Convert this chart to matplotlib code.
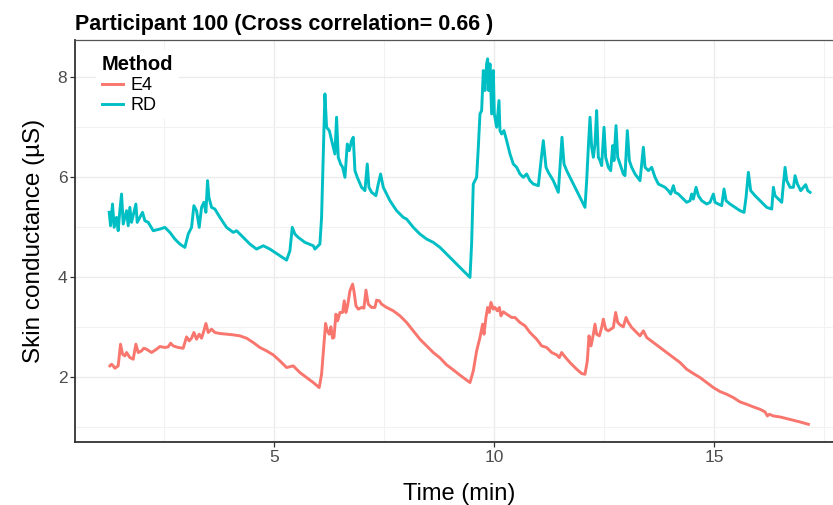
import matplotlib
matplotlib.use('Agg')
import matplotlib.pyplot as plt
from matplotlib.ticker import MultipleLocator

plt.rcParams['font.family'] = ['Liberation Sans', 'DejaVu Sans']

# values (time in min, skin conductance in uS)
rd_time = [1.258, 1.288, 1.333, 1.371, 1.424, 1.462, 1.5, 1.538, 1.576, 1.652, 1.689, 1.727, 1.765, 1.818,
           1.864, 1.894, 1.955, 2.015, 2.068, 2.144, 2.258, 2.409, 2.523, 2.636, 2.75, 2.864, 2.977, 3.053,
           3.129, 3.182, 3.242, 3.303, 3.356, 3.409, 3.455, 3.492, 3.523, 3.583, 3.659, 3.773, 3.924, 4.076,
           4.152, 4.303, 4.455, 4.606, 4.758, 4.909, 5.136, 5.288, 5.364, 5.417, 5.477, 5.553, 5.705, 5.894,
           5.932, 6.045, 6.083, 6.121, 6.159, 6.197, 6.258, 6.348, 6.386, 6.424, 6.462, 6.515, 6.561, 6.614,
           6.667, 6.712, 6.765, 6.803, 6.841, 6.894, 6.992, 7.068, 7.121, 7.159, 7.22, 7.318, 7.371, 7.424,
           7.485, 7.636, 7.788, 7.939, 8.015, 8.167, 8.318, 8.47, 8.621, 8.773, 8.924, 9.076, 9.227, 9.379,
           9.455, 9.492, 9.53, 9.568, 9.606, 9.644, 9.682, 9.72, 9.758, 9.795, 9.833, 9.856, 9.879, 9.909,
           9.947, 9.985, 10.008, 10.061, 10.114, 10.136, 10.174, 10.227, 10.288, 10.364, 10.439, 10.515,
           10.591, 10.667, 10.742, 10.818, 10.894, 11.008, 11.061, 11.121, 11.182, 11.235, 11.348, 11.462,
           11.515, 11.545, 11.591, 11.652, 11.803, 11.955, 12.068, 12.106, 12.144, 12.182, 12.22, 12.258,
           12.295, 12.333, 12.371, 12.409, 12.447, 12.5, 12.538, 12.598, 12.652, 12.697, 12.727, 12.773,
           12.811, 12.864, 12.939, 12.977, 13.03, 13.076, 13.129, 13.205, 13.318, 13.394, 13.432, 13.508,
           13.583, 13.659, 13.735, 13.811, 13.886, 13.962, 14.015, 14.076, 14.114, 14.189, 14.303, 14.379,
           14.455, 14.492, 14.53, 14.591, 14.644, 14.72, 14.833, 14.909, 14.985, 15.023, 15.098, 15.174,
           15.227, 15.273, 15.364, 15.477, 15.591, 15.682, 15.727, 15.78, 15.833, 15.932, 16.045, 16.197,
           16.311, 16.348, 16.386, 16.462, 16.538, 16.576, 16.614, 16.652, 16.727, 16.803, 16.841, 16.894,
           16.97, 17.03, 17.083, 17.129, 17.182]
rd_sc = [5.287, 5.02, 5.453, 4.987, 5.187, 4.92, 5.32, 5.653, 5.053, 5.32, 5.02, 5.387, 5.087, 5.287,
         5.453, 5.087, 5.187, 5.287, 5.12, 5.087, 4.92, 4.953, 4.987, 4.887, 4.753, 4.653, 4.587, 4.853,
         4.987, 5.42, 5.32, 4.987, 5.387, 5.487, 5.287, 5.92, 5.587, 5.387, 5.353, 5.187, 4.987, 4.887,
         4.92, 4.787, 4.653, 4.553, 4.62, 4.553, 4.42, 4.333, 4.52, 4.987, 4.853, 4.787, 4.687, 4.62,
         4.553, 4.653, 5.187, 6.453, 7.653, 6.987, 6.92, 6.587, 6.453, 7.187, 6.387, 6.253, 6.187, 5.987,
         6.653, 6.52, 6.72, 6.787, 6.12, 5.987, 5.787, 5.72, 6.253, 5.787, 5.687, 5.62, 5.853, 6.053,
         5.787, 5.52, 5.32, 5.187, 5.153, 4.987, 4.853, 4.753, 4.687, 4.587, 4.453, 4.32, 4.187, 4.053,
         3.987, 4.653, 5.853, 5.92, 5.987, 6.587, 7.253, 7.32, 8.12, 7.72, 8.253, 8.353, 7.72, 8.253,
         7.253, 8.12, 7.253, 6.987, 7.52, 6.92, 6.853, 6.92, 6.72, 6.453, 6.253, 6.187,
         6.053, 5.987, 6.053, 5.92, 5.853, 5.82, 6.253, 6.72, 6.187, 6.087, 5.92, 5.687,
         6.387, 6.787, 6.253, 6.12, 5.853, 5.587, 5.387, 5.92, 6.587, 7.187, 6.587, 6.387,
         6.653, 7.32, 6.387, 6.32, 6.22, 6.987, 6.387, 6.187, 6.12, 6.62, 6.32, 7.02,
         6.387, 6.253, 6.053, 6.02, 6.92, 6.32, 6.187, 6.053, 5.92, 6.587, 6.187, 6.12,
         6.187, 5.987, 5.853, 5.82, 5.787, 5.72, 5.653, 5.82, 5.687, 5.653, 5.553, 5.487,
         5.52, 5.653, 5.553, 5.787, 5.62, 5.52, 5.453, 5.487, 5.653, 5.487, 5.453, 5.42,
         5.753, 5.52, 5.453, 5.387, 5.32, 5.287, 5.587, 6.087, 5.72, 5.62, 5.52, 5.387,
         5.353, 5.787, 5.62, 5.553, 5.487, 5.853, 6.187, 5.92, 5.787, 5.787, 6.02, 5.853,
         5.72, 5.787, 5.84, 5.72, 5.687]

e4_time = [1.273, 1.311, 1.348, 1.386, 1.462, 1.515, 1.561, 1.614, 1.652, 1.727, 1.803, 1.864, 1.917, 1.992,
           2.045, 2.106, 2.22, 2.333, 2.409, 2.523, 2.598, 2.652, 2.712, 2.826, 2.939, 3.015, 3.076, 3.129,
           3.182, 3.242, 3.303, 3.356, 3.409, 3.455, 3.508, 3.583, 3.659, 3.773, 3.924, 4.076, 4.227, 4.379,
           4.53, 4.682, 4.833, 4.985, 5.136, 5.288, 5.439, 5.591, 5.742, 5.894, 6.03, 6.083, 6.136, 6.174,
           6.212, 6.258, 6.295, 6.333, 6.364, 6.409, 6.447, 6.5, 6.561, 6.598, 6.636, 6.674, 6.727, 6.788,
           6.818, 6.864, 6.917, 6.992, 7.045, 7.091, 7.144, 7.22, 7.295, 7.333, 7.394, 7.447, 7.561, 7.712,
           7.864, 8.015, 8.167, 8.318, 8.47, 8.621, 8.773, 8.924, 9.076, 9.227, 9.455, 9.53, 9.606, 9.682,
           9.742, 9.773, 9.818, 9.856, 9.894, 9.932, 9.985, 10.023, 10.076, 10.121, 10.159, 10.212, 10.288,
           10.402, 10.477, 10.591, 10.705, 10.818, 10.97, 11.083, 11.197, 11.311, 11.424, 11.485, 11.538,
           11.614, 11.727, 11.879, 11.992, 12.068, 12.121, 12.159, 12.205, 12.258, 12.295, 12.333, 12.394,
           12.447, 12.485, 12.538, 12.598, 12.652, 12.712, 12.765, 12.811, 12.864, 12.939, 13.0, 13.053,
           13.129, 13.242, 13.318, 13.394, 13.47, 13.621, 13.773, 13.924, 14.076, 14.227, 14.379, 14.53,
           14.682, 14.833, 14.985, 15.136, 15.288, 15.439, 15.591, 15.742, 15.894, 16.045, 16.159, 16.212,
           16.258, 16.348, 16.5, 16.652, 16.803, 16.955, 17.144]
e4_sc = [2.22, 2.253, 2.22, 2.173, 2.22, 2.653, 2.453, 2.42, 2.487, 2.387, 2.353, 2.653, 2.487, 2.52,
         2.573, 2.553, 2.487, 2.553, 2.607, 2.587, 2.6, 2.673, 2.62, 2.587, 2.573, 2.8, 2.72, 2.773,
         2.887, 2.753, 2.853, 2.773, 2.92, 3.067, 2.887, 2.953, 2.887, 2.867, 2.853, 2.84, 2.82, 2.773,
         2.687, 2.587, 2.52, 2.44, 2.32, 2.187, 2.22, 2.087, 1.987, 1.887, 1.787, 2.053, 2.653, 3.067,
         2.92, 2.853, 3.0, 2.773, 2.787, 3.253, 3.12, 3.287, 3.287, 3.52, 3.287, 3.42, 3.72, 3.853,
         3.72, 3.42, 3.353, 3.387, 3.373, 3.733, 3.453, 3.387, 3.387, 3.533, 3.52, 3.453, 3.387, 3.32,
         3.22, 3.087, 2.92, 2.753, 2.62, 2.487, 2.38, 2.24, 2.14, 2.035, 1.887, 2.12, 2.52, 2.787,
         3.053, 2.853, 3.187, 3.387, 3.287, 3.487, 3.353, 3.387, 3.32, 3.387, 3.22, 3.3, 3.253,
         3.187, 3.187, 3.087, 3.02, 2.887, 2.753, 2.62, 2.587, 2.487, 2.44, 2.387, 2.487,
         2.4, 2.287, 2.153, 2.067, 2.053, 2.32, 2.82, 2.62, 2.853, 3.053, 2.853, 2.82,
         2.987, 3.153, 2.953, 2.92, 2.953, 2.987, 3.287, 3.087, 3.04, 3.0, 3.187, 3.087,
         2.987, 2.887, 2.82, 2.92, 2.787, 2.687, 2.587, 2.487, 2.387, 2.287, 2.153, 2.067,
         1.987, 1.887, 1.787, 1.707, 1.653, 1.587, 1.5, 1.453, 1.4, 1.353, 1.3, 1.22,
         1.253, 1.22, 1.2, 1.167, 1.133, 1.1, 1.053]

fig = plt.figure(figsize=(8.33, 5.05), dpi=100)
ax = fig.add_axes([0.09, 0.1248, 0.922, 0.796])

ax.plot(e4_time, e4_sc, color='#F8766D', lw=2.1, label='E4', zorder=3)
ax.plot(rd_time, rd_sc, color='#00BFC4', lw=2.1, label='RD', zorder=3)

ax.set_xlim(0.48, 17.93)
ax.set_ylim(0.70, 8.73)

ax.xaxis.set_major_locator(MultipleLocator(5))
ax.xaxis.set_minor_locator(MultipleLocator(2.5))
ax.yaxis.set_major_locator(MultipleLocator(2))
ax.yaxis.set_minor_locator(MultipleLocator(1))

ax.grid(which='major', color='#EBEBEB', lw=1.0, zorder=0)
ax.grid(which='minor', color='#F2F2F2', lw=0.8, zorder=0)
ax.set_axisbelow(True)

for s in ax.spines.values():
    s.set_color('#555555')
    s.set_linewidth(0.9)
ax.spines['left'].set_color('#333333')
ax.spines['bottom'].set_color('#333333')
ax.spines['left'].set_linewidth(1.3)
ax.spines['bottom'].set_linewidth(1.3)

ax.tick_params(axis='both', which='major', labelsize=12.5, labelcolor='#4D4D4D', color='#333333',
               length=3.5, width=0.9, direction='out', pad=2)
ax.tick_params(axis='both', which='minor', length=0)

ax.set_title('Participant 100 (Cross correlation= 0.66 )', loc='left', fontsize=15.5,
             fontweight='bold', pad=7)
ax.set_xlabel('Time (min)', fontsize=17, labelpad=13)
ax.set_ylabel('Skin conductance (\u00b5S)', fontsize=17.5, labelpad=9)

leg = ax.legend(title='Method', loc='upper left', bbox_to_anchor=(0.028, 0.975), fontsize=13,
                title_fontproperties={'weight': 'bold', 'size': 14.5}, frameon=True, fancybox=False,
                edgecolor='none', framealpha=1, handlelength=1.15, handletextpad=0.45,
                labelspacing=0.15, borderpad=0.3, borderaxespad=0)
leg._legend_box.align = "left"

fig.savefig('out.png', dpi=100)
